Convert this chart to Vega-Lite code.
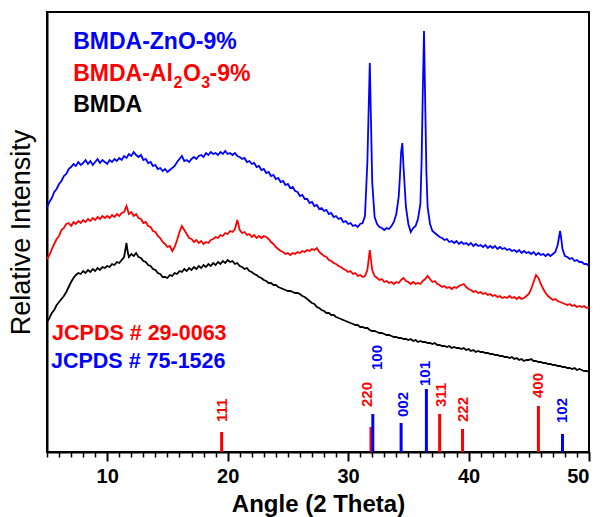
{
  "$schema": "https://vega.github.io/schema/vega-lite/v6.json",
  "width": 542,
  "height": 440,
  "autosize": {"type": "none"},
  "padding": {"left": 47, "top": 12, "right": 13, "bottom": 65},
  "background": "white",
  "config": {
    "view": {"stroke": "black", "strokeWidth": 2},
    "font": "Liberation Sans",
    "axis": {"grid": false, "domainColor": "black", "domainWidth": 2, "tickColor": "black", "labelColor": "black", "titleColor": "black", "labelFont": "Liberation Sans", "titleFont": "Liberation Sans"},
    "axisY": {"ticks": false, "labels": false, "titleFontSize": 27, "titleFontWeight": "normal", "titlePadding": 12}
  },
  "datasets": {
    "curves": [
      {"x":5.0,"zno":245,"al2o3":193,"bmda":130},
      {"x":5.2,"zno":250,"al2o3":197,"bmda":134},
      {"x":5.4,"zno":254,"al2o3":203,"bmda":139},
      {"x":5.6,"zno":260,"al2o3":208,"bmda":142},
      {"x":5.8,"zno":263,"al2o3":213,"bmda":147},
      {"x":6.0,"zno":268,"al2o3":216,"bmda":150},
      {"x":6.2,"zno":271,"al2o3":222,"bmda":153},
      {"x":6.4,"zno":276,"al2o3":224,"bmda":156},
      {"x":6.6,"zno":278,"al2o3":228,"bmda":160},
      {"x":6.8,"zno":283,"al2o3":229,"bmda":165},
      {"x":7.0,"zno":285,"al2o3":226,"bmda":170},
      {"x":7.2,"zno":288,"al2o3":230,"bmda":174},
      {"x":7.4,"zno":286,"al2o3":228,"bmda":177},
      {"x":7.6,"zno":290,"al2o3":231,"bmda":179},
      {"x":7.8,"zno":287,"al2o3":229,"bmda":178},
      {"x":8.0,"zno":289,"al2o3":232,"bmda":181},
      {"x":8.2,"zno":292,"al2o3":230,"bmda":179},
      {"x":8.4,"zno":288,"al2o3":233,"bmda":182},
      {"x":8.6,"zno":291,"al2o3":231,"bmda":180},
      {"x":8.8,"zno":287,"al2o3":234,"bmda":183},
      {"x":9.0,"zno":290,"al2o3":232,"bmda":181},
      {"x":9.2,"zno":293,"al2o3":235,"bmda":184},
      {"x":9.4,"zno":289,"al2o3":233,"bmda":182},
      {"x":9.6,"zno":292,"al2o3":236,"bmda":185},
      {"x":9.8,"zno":290,"al2o3":234,"bmda":184},
      {"x":10.0,"zno":288,"al2o3":236,"bmda":186},
      {"x":10.2,"zno":292,"al2o3":234,"bmda":185},
      {"x":10.4,"zno":290,"al2o3":237,"bmda":188},
      {"x":10.6,"zno":293,"al2o3":235,"bmda":187},
      {"x":10.8,"zno":291,"al2o3":238,"bmda":190},
      {"x":11.0,"zno":294,"al2o3":236,"bmda":189},
      {"x":11.2,"zno":292,"al2o3":239,"bmda":192},
      {"x":11.4,"zno":296,"al2o3":240,"bmda":195},
      {"x":11.6,"zno":294,"al2o3":246,"bmda":209},
      {"x":11.7,"bmda":200},
      {"x":11.8,"zno":298,"al2o3":238,"bmda":195},
      {"x":12.0,"zno":296,"al2o3":240,"bmda":198},
      {"x":12.2,"zno":300,"al2o3":236,"bmda":196},
      {"x":12.4,"zno":297,"al2o3":238,"bmda":199},
      {"x":12.6,"zno":295,"al2o3":234,"bmda":195},
      {"x":12.8,"zno":297,"al2o3":233,"bmda":194},
      {"x":13.0,"zno":292,"al2o3":229,"bmda":191},
      {"x":13.2,"zno":293,"al2o3":230,"bmda":190},
      {"x":13.4,"zno":289,"al2o3":226,"bmda":187},
      {"x":13.6,"zno":290,"al2o3":225,"bmda":186},
      {"x":13.8,"zno":286,"al2o3":221,"bmda":183},
      {"x":14.0,"zno":287,"al2o3":220,"bmda":182},
      {"x":14.2,"zno":283,"al2o3":216,"bmda":179},
      {"x":14.4,"zno":284,"al2o3":214,"bmda":178},
      {"x":14.6,"zno":281,"al2o3":210,"bmda":175},
      {"x":14.8,"zno":283,"al2o3":208,"bmda":175},
      {"x":15.0,"zno":280,"al2o3":205,"bmda":174},
      {"x":15.2,"zno":282,"al2o3":206,"bmda":177},
      {"x":15.4,"zno":284,"al2o3":201,"bmda":176},
      {"x":15.6,"zno":286,"al2o3":205,"bmda":179},
      {"x":15.8,"zno":290,"al2o3":212,"bmda":178},
      {"x":16.0,"zno":293,"al2o3":220,"bmda":181},
      {"x":16.2,"zno":296,"al2o3":226,"bmda":180},
      {"x":16.4,"zno":291,"al2o3":222,"bmda":183},
      {"x":16.6,"zno":292,"al2o3":218,"bmda":181},
      {"x":16.8,"zno":290,"al2o3":214,"bmda":184},
      {"x":17.0,"zno":293,"al2o3":213,"bmda":182},
      {"x":17.2,"zno":295,"al2o3":210,"bmda":185},
      {"x":17.4,"zno":293,"al2o3":212,"bmda":183},
      {"x":17.6,"zno":296,"al2o3":209,"bmda":186},
      {"x":17.8,"zno":297,"al2o3":211,"bmda":184},
      {"x":18.0,"zno":295,"al2o3":208,"bmda":187},
      {"x":18.2,"zno":299,"al2o3":210,"bmda":185},
      {"x":18.4,"zno":297,"al2o3":209,"bmda":188},
      {"x":18.6,"zno":300,"al2o3":212,"bmda":186},
      {"x":18.8,"zno":298,"al2o3":213,"bmda":189},
      {"x":19.0,"zno":299,"al2o3":215,"bmda":187},
      {"x":19.2,"zno":297,"al2o3":214,"bmda":190},
      {"x":19.4,"zno":300,"al2o3":217,"bmda":188},
      {"x":19.6,"zno":298,"al2o3":216,"bmda":191},
      {"x":19.8,"zno":301,"al2o3":219,"bmda":189},
      {"x":20.0,"zno":298,"al2o3":218,"bmda":192},
      {"x":20.2,"zno":299,"al2o3":221,"bmda":190},
      {"x":20.4,"zno":297,"al2o3":220,"bmda":191},
      {"x":20.6,"zno":299,"al2o3":223,"bmda":188},
      {"x":20.8,"zno":296,"al2o3":232,"bmda":189},
      {"x":21.0,"zno":295,"al2o3":222,"bmda":186},
      {"x":21.2,"zno":293,"al2o3":219,"bmda":185},
      {"x":21.4,"zno":294,"al2o3":220,"bmda":183},
      {"x":21.6,"zno":290,"al2o3":217,"bmda":184},
      {"x":21.8,"zno":291,"al2o3":218,"bmda":181},
      {"x":22.0,"zno":288,"al2o3":215,"bmda":180},
      {"x":22.2,"zno":289,"al2o3":217,"bmda":178},
      {"x":22.4,"zno":285,"al2o3":214,"bmda":177},
      {"x":22.6,"zno":286,"al2o3":216,"bmda":175},
      {"x":22.8,"zno":282,"al2o3":214,"bmda":174},
      {"x":23.0,"zno":283,"al2o3":216,"bmda":172},
      {"x":23.2,"zno":279,"al2o3":215,"bmda":171},
      {"x":23.4,"zno":280,"al2o3":213,"bmda":169},
      {"x":23.6,"zno":276,"al2o3":210,"bmda":169},
      {"x":23.8,"zno":277,"al2o3":208,"bmda":167},
      {"x":24.0,"zno":273,"al2o3":205,"bmda":167},
      {"x":24.2,"zno":274,"al2o3":203,"bmda":165},
      {"x":24.4,"zno":270,"al2o3":201,"bmda":164},
      {"x":24.6,"zno":271,"al2o3":200,"bmda":163},
      {"x":24.8,"zno":267,"al2o3":198,"bmda":162},
      {"x":25.0,"zno":268,"al2o3":199,"bmda":161},
      {"x":25.2,"zno":264,"al2o3":197,"bmda":161},
      {"x":25.4,"zno":265,"al2o3":199,"bmda":160},
      {"x":25.6,"zno":261,"al2o3":198,"bmda":159},
      {"x":25.8,"zno":260,"al2o3":200,"bmda":159},
      {"x":26.0,"zno":256,"al2o3":199,"bmda":158},
      {"x":26.2,"zno":257,"al2o3":201,"bmda":156},
      {"x":26.4,"zno":253,"al2o3":200,"bmda":155},
      {"x":26.6,"zno":253,"al2o3":202,"bmda":153},
      {"x":26.8,"zno":249,"al2o3":201,"bmda":151},
      {"x":27.0,"zno":250,"al2o3":203,"bmda":149},
      {"x":27.2,"zno":246,"al2o3":202,"bmda":148},
      {"x":27.4,"zno":247,"al2o3":204,"bmda":145},
      {"x":27.6,"zno":243,"al2o3":200,"bmda":144},
      {"x":27.8,"zno":244,"al2o3":198,"bmda":142},
      {"x":28.0,"zno":241,"al2o3":196,"bmda":141},
      {"x":28.2,"zno":242,"al2o3":195,"bmda":139},
      {"x":28.4,"zno":238,"al2o3":192,"bmda":139},
      {"x":28.6,"zno":239,"al2o3":191,"bmda":137},
      {"x":28.8,"zno":235,"al2o3":189,"bmda":137},
      {"x":29.0,"zno":236,"al2o3":188,"bmda":135},
      {"x":29.2,"zno":233,"al2o3":186,"bmda":134},
      {"x":29.4,"zno":234,"al2o3":185,"bmda":133},
      {"x":29.6,"zno":230,"al2o3":183,"bmda":132},
      {"x":29.8,"zno":231,"al2o3":182,"bmda":131},
      {"x":30.0,"zno":228,"al2o3":180,"bmda":130},
      {"x":30.2,"zno":229,"al2o3":181,"bmda":129},
      {"x":30.4,"zno":226,"al2o3":178,"bmda":128},
      {"x":30.6,"zno":227,"al2o3":179,"bmda":127},
      {"x":30.8,"zno":225,"al2o3":176,"bmda":127},
      {"x":31.0,"zno":228,"al2o3":177,"bmda":125},
      {"x":31.2,"zno":229,"al2o3":175,"bmda":125},
      {"x":31.4,"zno":236,"al2o3":176,"bmda":124},
      {"x":31.6,"zno":290,"al2o3":182,"bmda":124},
      {"x":31.7,"zno":340,"al2o3":192},
      {"x":31.8,"zno":389,"al2o3":202,"bmda":122},
      {"x":31.9,"zno":330,"al2o3":192},
      {"x":32.0,"zno":270,"al2o3":182,"bmda":121},
      {"x":32.2,"zno":235,"al2o3":176,"bmda":121},
      {"x":32.4,"zno":228,"al2o3":174,"bmda":120},
      {"x":32.6,"zno":225,"al2o3":172,"bmda":119},
      {"x":32.8,"zno":224,"al2o3":173,"bmda":119},
      {"x":33.0,"zno":222,"al2o3":170,"bmda":118},
      {"x":33.2,"zno":224,"al2o3":171,"bmda":117},
      {"x":33.4,"zno":223,"al2o3":169,"bmda":117},
      {"x":33.6,"zno":226,"al2o3":170,"bmda":116},
      {"x":33.8,"zno":230,"al2o3":168,"bmda":115},
      {"x":34.0,"zno":238,"al2o3":170,"bmda":115},
      {"x":34.2,"zno":255,"al2o3":169,"bmda":114},
      {"x":34.3,"zno":275},
      {"x":34.4,"zno":300,"al2o3":172,"bmda":114},
      {"x":34.5,"zno":309},
      {"x":34.6,"zno":285,"al2o3":174,"bmda":113},
      {"x":34.8,"zno":245,"al2o3":171,"bmda":113},
      {"x":35.0,"zno":228,"al2o3":170,"bmda":112},
      {"x":35.2,"zno":220,"al2o3":168,"bmda":113},
      {"x":35.4,"zno":224,"al2o3":170,"bmda":111},
      {"x":35.6,"zno":226,"al2o3":168,"bmda":112},
      {"x":35.8,"zno":233,"al2o3":169,"bmda":110},
      {"x":36.0,"zno":248,"al2o3":168,"bmda":111},
      {"x":36.1,"zno":290},
      {"x":36.2,"zno":360,"al2o3":171,"bmda":110},
      {"x":36.3,"zno":421},
      {"x":36.4,"zno":350,"al2o3":173,"bmda":110},
      {"x":36.5,"zno":280},
      {"x":36.6,"zno":245,"al2o3":176,"bmda":109},
      {"x":36.8,"zno":228,"al2o3":173,"bmda":109},
      {"x":37.0,"zno":221,"al2o3":170,"bmda":108},
      {"x":37.2,"zno":219,"al2o3":171,"bmda":109},
      {"x":37.4,"zno":217,"al2o3":168,"bmda":107},
      {"x":37.6,"zno":215,"al2o3":167,"bmda":107},
      {"x":37.8,"zno":214,"al2o3":165,"bmda":106},
      {"x":38.0,"zno":212,"al2o3":166,"bmda":106},
      {"x":38.2,"zno":213,"al2o3":164,"bmda":105},
      {"x":38.4,"zno":210,"al2o3":165,"bmda":106},
      {"x":38.6,"zno":211,"al2o3":163,"bmda":104},
      {"x":38.8,"zno":209,"al2o3":165,"bmda":105},
      {"x":39.0,"zno":211,"al2o3":164,"bmda":104},
      {"x":39.2,"zno":208,"al2o3":166,"bmda":104},
      {"x":39.4,"zno":210,"al2o3":167,"bmda":103},
      {"x":39.6,"zno":208,"al2o3":168,"bmda":104},
      {"x":39.8,"zno":209,"al2o3":165,"bmda":102},
      {"x":40.0,"zno":207,"al2o3":163,"bmda":103},
      {"x":40.2,"zno":209,"al2o3":162,"bmda":101},
      {"x":40.4,"zno":206,"al2o3":160,"bmda":102},
      {"x":40.6,"zno":208,"al2o3":161,"bmda":100},
      {"x":40.8,"zno":206,"al2o3":159,"bmda":101},
      {"x":41.0,"zno":207,"al2o3":160,"bmda":100},
      {"x":41.2,"zno":205,"al2o3":158,"bmda":100},
      {"x":41.4,"zno":207,"al2o3":159,"bmda":99},
      {"x":41.6,"zno":204,"al2o3":157,"bmda":99},
      {"x":41.8,"zno":206,"al2o3":158,"bmda":98},
      {"x":42.0,"zno":204,"al2o3":156,"bmda":98},
      {"x":42.2,"zno":206,"al2o3":157,"bmda":97},
      {"x":42.4,"zno":203,"al2o3":155,"bmda":97},
      {"x":42.6,"zno":205,"al2o3":156,"bmda":96},
      {"x":42.8,"zno":203,"al2o3":154,"bmda":96},
      {"x":43.0,"zno":204,"al2o3":155,"bmda":95},
      {"x":43.2,"zno":202,"al2o3":154,"bmda":95},
      {"x":43.4,"zno":203,"al2o3":156,"bmda":94},
      {"x":43.6,"zno":201,"al2o3":154,"bmda":95},
      {"x":43.8,"zno":202,"al2o3":155,"bmda":93},
      {"x":44.0,"zno":200,"al2o3":153,"bmda":94},
      {"x":44.2,"zno":202,"al2o3":155,"bmda":92},
      {"x":44.4,"zno":199,"al2o3":153,"bmda":93},
      {"x":44.6,"zno":201,"al2o3":154,"bmda":91},
      {"x":44.8,"zno":199,"al2o3":156,"bmda":92},
      {"x":45.0,"zno":200,"al2o3":158,"bmda":92},
      {"x":45.2,"zno":198,"al2o3":163,"bmda":93},
      {"x":45.4,"zno":200,"al2o3":170,"bmda":91},
      {"x":45.6,"zno":197,"al2o3":177,"bmda":91},
      {"x":45.8,"zno":199,"al2o3":174,"bmda":90},
      {"x":46.0,"zno":197,"al2o3":168,"bmda":90},
      {"x":46.2,"zno":198,"al2o3":163,"bmda":89},
      {"x":46.4,"zno":196,"al2o3":159,"bmda":89},
      {"x":46.6,"zno":198,"al2o3":156,"bmda":88},
      {"x":46.8,"zno":196,"al2o3":154,"bmda":88},
      {"x":47.0,"zno":198,"al2o3":152,"bmda":87},
      {"x":47.2,"zno":200,"al2o3":153,"bmda":87},
      {"x":47.4,"zno":207,"al2o3":151,"bmda":86},
      {"x":47.5,"zno":214},
      {"x":47.6,"zno":221,"al2o3":150,"bmda":86},
      {"x":47.7,"zno":213},
      {"x":47.8,"zno":203,"al2o3":149,"bmda":85},
      {"x":48.0,"zno":196,"al2o3":148,"bmda":85},
      {"x":48.2,"zno":195,"al2o3":147,"bmda":84},
      {"x":48.4,"zno":193,"al2o3":148,"bmda":84},
      {"x":48.6,"zno":194,"al2o3":146,"bmda":83},
      {"x":48.8,"zno":191,"al2o3":147,"bmda":84},
      {"x":49.0,"zno":192,"al2o3":145,"bmda":82},
      {"x":49.2,"zno":190,"al2o3":146,"bmda":83},
      {"x":49.4,"zno":190,"al2o3":145,"bmda":82},
      {"x":49.6,"zno":188,"al2o3":146,"bmda":81},
      {"x":49.8,"zno":188,"al2o3":144,"bmda":81},
      {"x":50.0,"zno":186,"al2o3":145,"bmda":80}
    ],
    "sticks": [
      {"a":19.5,"h":20,"lx":19.5,"ly":30,"hkl":"111","phase":"al2o3"},
      {"a":31.9,"h":25,"lx":31.6,"ly":45,"hkl":"220","phase":"al2o3"},
      {"a":37.6,"h":38,"lx":37.7,"ly":45,"hkl":"311","phase":"al2o3"},
      {"a":39.5,"h":23,"lx":39.5,"ly":30,"hkl":"222","phase":"al2o3"},
      {"a":45.8,"h":46,"lx":45.8,"ly":54,"hkl":"400","phase":"al2o3"},
      {"a":32.05,"h":38,"lx":32.4,"ly":82,"hkl":"100","phase":"zno"},
      {"a":34.4,"h":29,"lx":34.55,"ly":35,"hkl":"002","phase":"zno"},
      {"a":36.5,"h":63,"lx":36.4,"ly":66,"hkl":"101","phase":"zno"},
      {"a":47.8,"h":18,"lx":47.75,"ly":29,"hkl":"102","phase":"zno"}
    ],
    "names": [
      {"x":7.17,"y":403,"t":"BMDA-ZnO-9%","c":"zno"},
      {"x":7.17,"y":371,"t":"BMDA-Al","c":"al2o3"},
      {"x":16.3,"y":371,"t":"O","c":"al2o3"},
      {"x":18.5,"y":371,"t":"-9%","c":"al2o3"},
      {"x":7.17,"y":340,"t":"BMDA","c":"bmda"}
    ],
    "subscripts": [
      {"x":15.5,"y":364,"t":"2","c":"al2o3"},
      {"x":17.8,"y":364,"t":"3","c":"al2o3"}
    ],
    "cards": [
      {"x":5.42,"y":112,"t":"JCPDS # 29-0063","c":"al2o3"},
      {"x":5.33,"y":84,"t":"JCPDS # 75-1526","c":"zno"}
    ]
  },
  "layer": [
    {
      "data": {"name": "curves"},
      "transform": [
        {"fold": ["zno", "al2o3", "bmda"], "as": ["series", "I"]},
        {"filter": "isValid(datum.I)"}
      ],
      "mark": {"type": "line", "strokeWidth": 1.8},
      "encoding": {
        "x": {"field": "x", "type": "quantitative", "scale": {"domain": [5, 50], "nice": false, "zero": false},
          "axis": {"orient": "bottom", "values": [10, 20, 30, 40, 50], "tickSize": 9, "tickWidth": 2, "labelFontSize": 20, "labelFontWeight": "bold", "labelPadding": 5, "title": "Angle (2 Theta)", "titleFontSize": 24, "titleFontWeight": "bold", "titlePadding": 6}},
        "y": {"field": "I", "type": "quantitative", "scale": {"domain": [0, 440], "nice": false, "zero": false},
          "axis": {"title": "Relative Intensity"}},
        "color": {"field": "series", "type": "nominal", "scale": {"domain": ["zno", "al2o3", "bmda"], "range": ["#0000ff", "#ff0000", "#000000"]}, "legend": null}
      }
    },
    {
      "data": {"name": "sticks"},
      "mark": {"type": "rule", "strokeWidth": 3},
      "encoding": {
        "x": {"field": "a", "type": "quantitative",
          "axis": {"orient": "bottom", "values": [5,6,7,8,9,11,12,13,14,15,16,17,18,19,21,22,23,24,25,26,27,28,29,31,32,33,34,35,36,37,38,39,41,42,43,44,45,46,47,48,49], "labels": false, "tickSize": 5, "tickWidth": 1.5, "domain": false, "title": null}},
        "y": {"field": "h", "type": "quantitative", "axis": {"title": "Relative Intensity"}},
        "y2": {"datum": 0},
        "color": {"field": "phase", "type": "nominal", "scale": {"domain": ["zno", "al2o3", "bmda"], "range": ["#0000ff", "#ff0000", "#000000"]}, "legend": null}
      }
    },
    {
      "data": {"name": "sticks"},
      "mark": {"type": "text", "angle": 270, "align": "left", "baseline": "middle", "fontSize": 15, "fontWeight": "bold", "font": "Liberation Sans"},
      "encoding": {
        "x": {"field": "lx", "type": "quantitative", "axis": null},
        "y": {"field": "ly", "type": "quantitative", "axis": {"title": "Relative Intensity"}},
        "text": {"field": "hkl", "type": "nominal"},
        "color": {"field": "phase", "type": "nominal", "scale": {"domain": ["zno", "al2o3", "bmda"], "range": ["#0000ff", "#ff0000", "#000000"]}, "legend": null}
      }
    },
    {
      "data": {"name": "names"},
      "mark": {"type": "text", "align": "left", "baseline": "alphabetic", "fontSize": 23, "fontWeight": "bold", "font": "Liberation Sans"},
      "encoding": {
        "x": {"field": "x", "type": "quantitative", "axis": null},
        "y": {"field": "y", "type": "quantitative", "axis": {"title": "Relative Intensity"}},
        "text": {"field": "t", "type": "nominal"},
        "color": {"field": "c", "type": "nominal", "scale": {"domain": ["zno", "al2o3", "bmda"], "range": ["#0000ff", "#ff0000", "#000000"]}, "legend": null}
      }
    },
    {
      "data": {"name": "subscripts"},
      "mark": {"type": "text", "align": "left", "baseline": "alphabetic", "fontSize": 16, "fontWeight": "bold", "font": "Liberation Sans"},
      "encoding": {
        "x": {"field": "x", "type": "quantitative", "axis": null},
        "y": {"field": "y", "type": "quantitative", "axis": {"title": "Relative Intensity"}},
        "text": {"field": "t", "type": "nominal"},
        "color": {"field": "c", "type": "nominal", "scale": {"domain": ["zno", "al2o3", "bmda"], "range": ["#0000ff", "#ff0000", "#000000"]}, "legend": null}
      }
    },
    {
      "data": {"name": "cards"},
      "mark": {"type": "text", "align": "left", "baseline": "alphabetic", "fontSize": 21.5, "fontWeight": "bold", "font": "Liberation Sans"},
      "encoding": {
        "x": {"field": "x", "type": "quantitative", "axis": null},
        "y": {"field": "y", "type": "quantitative", "axis": {"title": "Relative Intensity"}},
        "text": {"field": "t", "type": "nominal"},
        "color": {"field": "c", "type": "nominal", "scale": {"domain": ["zno", "al2o3", "bmda"], "range": ["#0000ff", "#ff0000", "#000000"]}, "legend": null}
      }
    }
  ],
  "resolve": {"axis": {"x": "independent"}}
}
